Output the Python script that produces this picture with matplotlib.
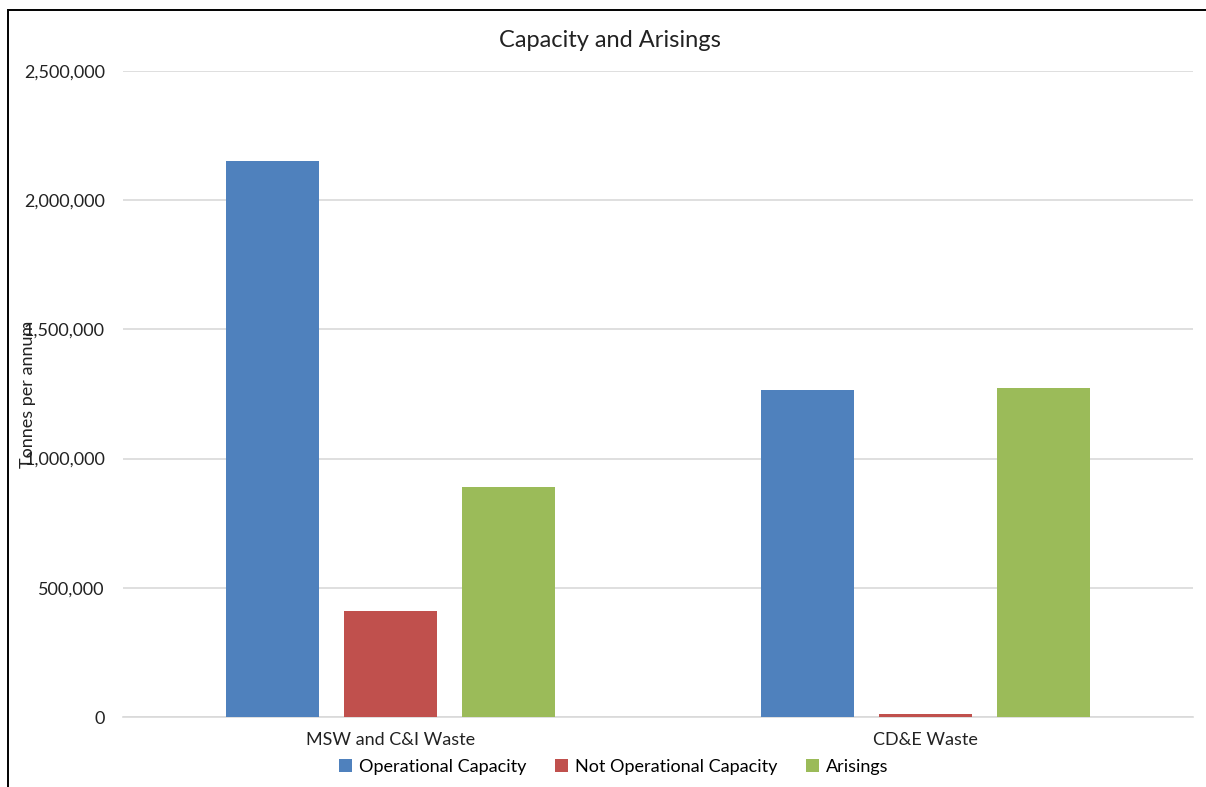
import numpy as np
import matplotlib.pyplot as plt
from matplotlib.lines import Line2D
from matplotlib.ticker import FuncFormatter

plt.rcParams['font.family'] = ['Lato', 'DejaVu Sans']

categories = ['MSW and C&I Waste', 'CD&E Waste']
series = ['Operational Capacity', 'Not Operational Capacity', 'Arisings']
operational = [2150000, 1265000]
not_operational = [410000, 12000]
arisings = [890000, 1273000]
colors = ['#4F81BD', '#C0504D', '#9BBB59']

fig = plt.figure(figsize=(12.06, 7.87), dpi=100)
ax = fig.add_axes([0.102, 0.0889, 0.887, 0.8209])

x = np.arange(len(categories))
width = 0.174
step = 0.2205
for i, (vals, name) in enumerate(zip([operational, not_operational, arisings], series)):
    ax.bar(x + (i - 1) * step, vals, width, color=colors[i], label=name, zorder=3)

ax.set_xlim(-0.5, 1.5)
ax.set_ylim(0, 2500000)
ax.set_yticks(np.arange(0, 2500001, 500000))
ax.yaxis.set_major_formatter(FuncFormatter(lambda v, p: f'{int(v):,}'))
ax.set_xticks(x)
ax.set_xticklabels(categories)
ax.tick_params(axis='both', length=0, labelsize=13, colors='#222222')
ax.tick_params(axis='y', pad=13)
ax.tick_params(axis='x', pad=11)
ax.grid(axis='y', color='#d9d9d9', linewidth=1.2, zorder=0)
for s in ['top', 'right', 'left']:
    ax.spines[s].set_visible(False)
ax.spines['bottom'].set_color('#d9d9d9')
ax.spines['bottom'].set_linewidth(1.2)

fig.suptitle('Capacity and Arisings', x=0.506, y=0.949, va='center',
             fontsize=17, color='#222222')
ax.set_ylabel('Tonnes per annum', fontsize=13, color='#222222')
ax.yaxis.set_label_coords(-0.081, 0.5)

fig.legend(loc='center', bbox_to_anchor=(0.509, 0.0254), ncol=3, frameon=False,
           fontsize=13, handlelength=0.7, handleheight=0.7, handletextpad=0.4,
           columnspacing=1.6)

# chart frame: left and top edges only
fx, fy = 8 / 1206, 1 - 10 / 787
fig.add_artist(Line2D([fx, fx, 1.0], [0.0, fy, fy], transform=fig.transFigure,
                      color='black', linewidth=1.4, solid_joinstyle='miter'))

fig.savefig('out.png', dpi=100)
